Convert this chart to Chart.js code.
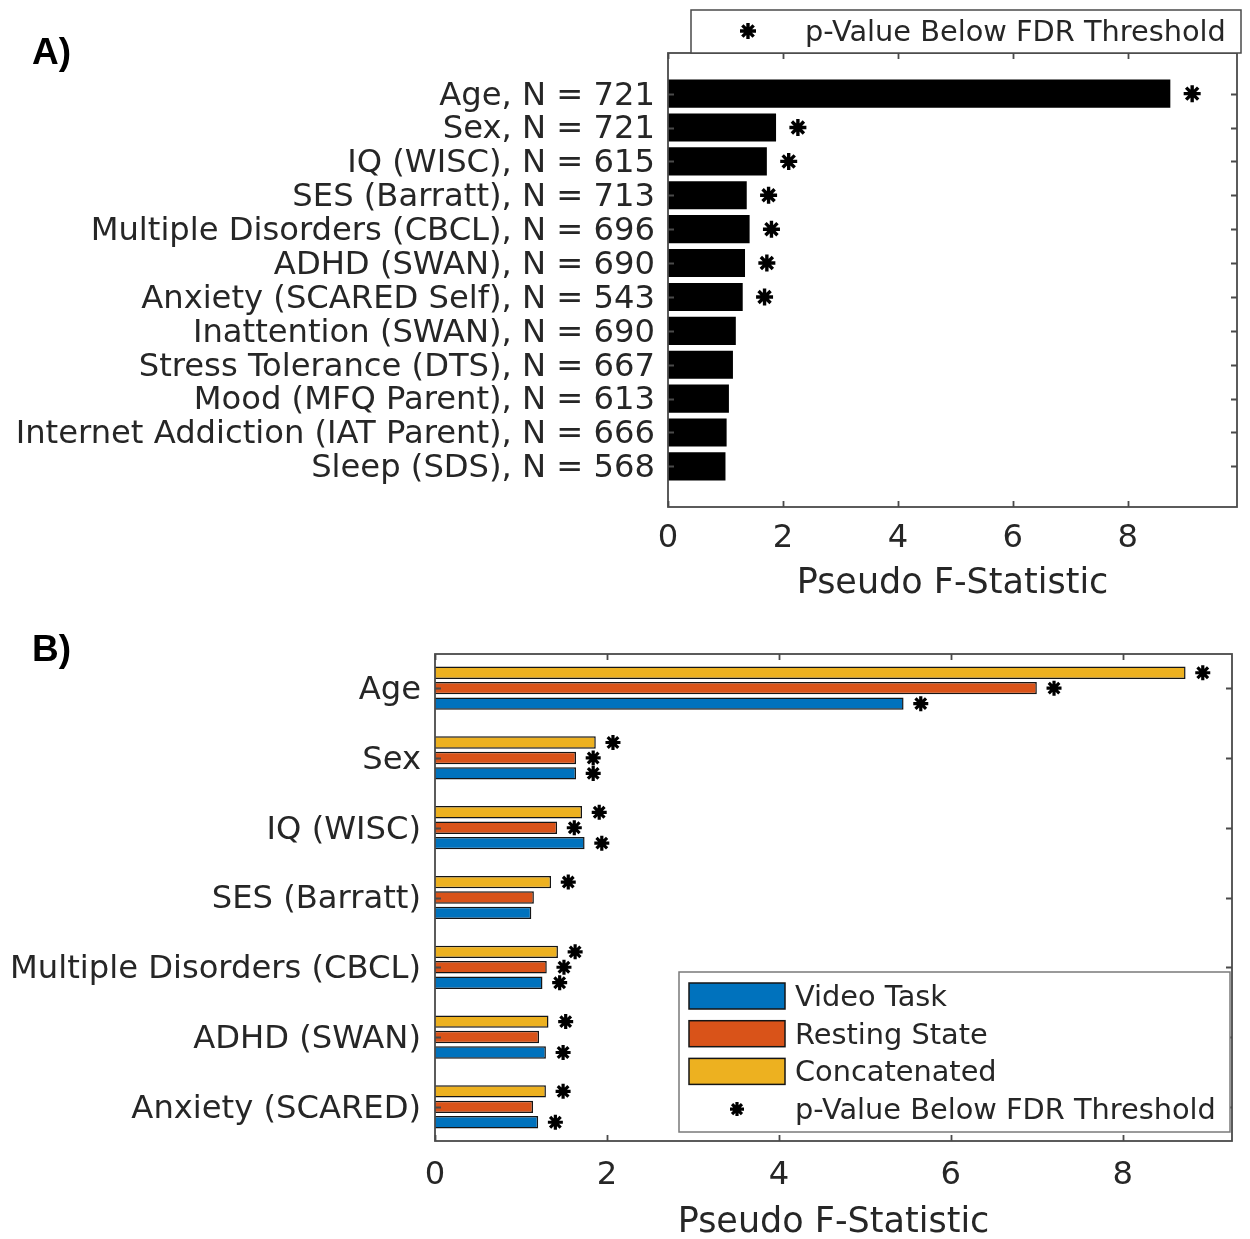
<!DOCTYPE html>
<html>
<head>
<meta charset="utf-8">
<script src="https://cdn.jsdelivr.net/npm/chart.js@4.4.1/dist/chart.umd.min.js"></script>
<style>
  html, body { margin: 0; padding: 0; background: #fff; }
  #page { position: relative; width: 1250px; height: 1239px; overflow: hidden; background: #fff; }
  canvas { position: absolute; left: 0; }
  #cA { top: 0; }
  #cB { top: 610px; }
  .panel { position: absolute; left: 32px; font: bold 37px "Liberation Sans", Arial, sans-serif; color: #000; line-height: 1; }
</style>
</head>
<body>
<div id="page">
  <canvas id="cA" width="1250" height="610"></canvas>
  <canvas id="cB" width="1250" height="629"></canvas>
  <div class="panel" style="top:33px">A)</div>
  <div class="panel" style="top:630px">B)</div>
</div>
<script>
// ---- Panel A: pseudo F-statistic per phenotypic measure (concatenated data) ----
const measuresA = [
  'Age, N = 721',
  'Sex, N = 721',
  'IQ (WISC), N = 615',
  'SES (Barratt), N = 713',
  'Multiple Disorders (CBCL), N = 696',
  'ADHD (SWAN), N = 690',
  'Anxiety (SCARED Self), N = 543',
  'Inattention (SWAN), N = 690',
  'Stress Tolerance (DTS), N = 667',
  'Mood (MFQ Parent), N = 613',
  'Internet Addiction (IAT Parent), N = 666',
  'Sleep (SDS), N = 568'
];
const pseudoFA = [8.74, 1.88, 1.72, 1.37, 1.42, 1.34, 1.30, 1.18, 1.13, 1.06, 1.02, 1.00];
const belowFdrA = [true, true, true, true, true, true, true, false, false, false, false, false];
const ticksA = [0, 2, 4, 6, 8];

// ---- Panel B: pseudo F-statistic by data type ----
const measuresB = [
  'Age',
  'Sex',
  'IQ (WISC)',
  'SES (Barratt)',
  'Multiple Disorders (CBCL)',
  'ADHD (SWAN)',
  'Anxiety (SCARED)'
];
const videoTask    = [5.45, 1.64, 1.74, 1.12, 1.25, 1.29, 1.20];
const restingState = [7.00, 1.64, 1.42, 1.15, 1.30, 1.21, 1.14];
const concatenated = [8.73, 1.87, 1.71, 1.35, 1.43, 1.32, 1.29];
const belowFdrVideo   = [true, true, true, false, true, true, true];
const belowFdrResting = [true, true, true, false, true, false, false];
const belowFdrConcat  = [true, true, true, true, true, true, true];
const ticksB = [0, 2, 4, 6, 8];

// ---- shared styling ----
const FONT = 'DejaVu Sans';
const INK = '#262626';
const BLUE = '#0072BD', ORANGE = '#D95319', YELLOW = '#EDB120';

// Box around the plot area with inward tick marks on all four sides
const axesFrame = {
  id: 'axesFrame',
  afterDatasetsDraw(chart, args, o) {
    const { ctx, chartArea: a, scales: { x, y } } = chart;
    ctx.save();
    ctx.strokeStyle = o.color;
    ctx.lineWidth = o.width;
    ctx.beginPath();
    x.ticks.forEach(t => {
      const px = Math.round(x.getPixelForValue(t.value)) + 0.5;
      ctx.moveTo(px, a.top); ctx.lineTo(px, a.top + o.tick);
      ctx.moveTo(px, a.bottom); ctx.lineTo(px, a.bottom - o.tick);
    });
    y.ticks.forEach(t => {
      const py = Math.round(y.getPixelForValue(t.value)) + 0.5;
      ctx.moveTo(a.left, py); ctx.lineTo(a.left + o.tick, py);
      ctx.moveTo(a.right, py); ctx.lineTo(a.right - o.tick, py);
    });
    ctx.stroke();
    ctx.strokeRect(a.left, a.top, a.right - a.left, a.bottom - a.top);
    ctx.restore();
  }
};

// Boxed legend; entries come from datasets that carry a legendRank
const boxLegend = {
  id: 'boxLegend',
  afterDraw(chart, args, o) {
    const ctx = chart.ctx;
    ctx.save();
    ctx.fillStyle = '#fff';
    ctx.fillRect(o.left, o.top, o.width, o.height);
    ctx.strokeStyle = o.edge;
    ctx.lineWidth = 1.5;
    ctx.strokeRect(o.left, o.top, o.width, o.height);
    const items = chart.data.datasets
      .filter(d => d.legendRank !== undefined)
      .sort((p, q) => p.legendRank - q.legendRank);
    ctx.font = o.fontSize + 'px "' + FONT + '"';
    ctx.textBaseline = 'middle';
    ctx.textAlign = 'left';
    items.forEach((d, r) => {
      const cy = o.firstRow + r * o.rowGap;
      if (d.type === 'scatter') {
        ctx.strokeStyle = d.pointBorderColor;
        ctx.fillStyle = d.pointBorderColor;
        ctx.lineWidth = d.pointBorderWidth;
        Chart.helpers.drawPoint(ctx, {
          pointStyle: 'star', radius: o.markerRadius, rotation: 0, borderWidth: d.pointBorderWidth
        }, o.markerX, cy);
      } else {
        ctx.fillStyle = d.backgroundColor;
        ctx.fillRect(o.swatchX, cy - o.swatchH / 2, o.swatchW, o.swatchH);
        ctx.strokeStyle = '#151515';
        ctx.lineWidth = 1.5;
        ctx.strokeRect(o.swatchX, cy - o.swatchH / 2, o.swatchW, o.swatchH);
      }
      ctx.fillStyle = INK;
      ctx.fillText(d.label, o.textX, cy + o.textShift);
    });
    ctx.restore();
  }
};

function xScale(max, ticks, height, tickPad, titlePad) {
  return {
    type: 'linear', min: 0, max: max, offset: false,
    grid: { display: false, drawTicks: false },
    border: { display: false },
    afterBuildTicks: s => { s.ticks = ticks.map(v => ({ value: v })); },
    afterFit: s => { s.height = height; },
    ticks: { font: { family: FONT, size: 32.2, lineHeight: 1 }, color: INK, padding: tickPad, maxRotation: 0, autoSkip: false },
    title: { display: true, text: 'Pseudo F-Statistic', font: { family: FONT, size: 35, lineHeight: 0.9 }, color: INK, padding: { top: 0, bottom: titlePad } }
  };
}

function yScale(labels, min, max, width, pad) {
  return {
    type: 'linear', reverse: true, min: min, max: max, offset: false,
    grid: { display: false, drawTicks: false, offset: false },
    border: { display: false },
    afterBuildTicks: s => { s.ticks = labels.map((_, i) => ({ value: i })); },
    afterFit: s => { s.width = width; },
    ticks: { font: { family: FONT, size: 32.2, lineHeight: 1 }, color: INK, padding: pad, autoSkip: false,
             labelOffset: 2.5, callback: v => labels[v] }
  };
}

// ---------------- Panel A ----------------
const STAR_GAP_A = 0.38;
new Chart(document.getElementById('cA'), {
  type: 'bar',
  plugins: [axesFrame, boxLegend],
  data: {
    datasets: [
      {
        label: 'Pseudo F-Statistic',
        data: pseudoFA.map((v, i) => ({ x: v, y: i })),
        backgroundColor: '#000', borderWidth: 0,
        barPercentage: 0.83, categoryPercentage: 1
      },
      {
        type: 'scatter', legendRank: 0,
        label: 'p-Value Below FDR Threshold',
        data: pseudoFA.flatMap((v, i) => belowFdrA[i] ? [{ x: v + STAR_GAP_A, y: i }] : []),
        pointStyle: 'star', pointRadius: 8.5, pointBorderWidth: 3.4,
        pointBorderColor: '#000', pointBackgroundColor: '#000'
      }
    ]
  },
  options: {
    responsive: false, animation: false, devicePixelRatio: 1, indexAxis: 'y',
    layout: { padding: { left: 0, right: 13, top: 53, bottom: 0 } },
    plugins: {
      legend: { display: false }, tooltip: { enabled: false },
      axesFrame: { color: '#4a4a4a', width: 1.8, tick: 6 },
      boxLegend: { left: 691, top: 10, width: 550, height: 43, edge: '#4a4a4a', fontSize: 28.8,
                   firstRow: 31, rowGap: 38, markerX: 748, markerRadius: 8, textX: 805, textShift: 2.5 }
    },
    scales: {
      x: xScale(9.9, ticksA, 103, 16, 10),
      y: yScale(measuresA, -1.2, 12.2, 668, 13)
    }
  }
});

// ---------------- Panel B ----------------
const GROUP_WIDTH = 0.664;   // fraction of each category taken by its three bars
const BAR_FILL = 0.8;
const STAR_GAP_B = 0.2;
// series listed top to bottom within each group
const seriesB = [
  { label: 'Concatenated',  values: concatenated, sig: belowFdrConcat,  color: YELLOW, rank: 2 },
  { label: 'Resting State', values: restingState, sig: belowFdrResting, color: ORANGE, rank: 1 },
  { label: 'Video Task',    values: videoTask,    sig: belowFdrVideo,   color: BLUE,   rank: 0 }
];
const barSetsB = seriesB.map(s => ({
  label: s.label, legendRank: s.rank,
  data: s.values.map((v, i) => ({ x: v, y: i })),
  backgroundColor: s.color, borderColor: '#151515', borderWidth: 1.5,
  barPercentage: BAR_FILL, categoryPercentage: GROUP_WIDTH
}));
const starsB = {
  type: 'scatter', legendRank: 3,
  label: 'p-Value Below FDR Threshold',
  data: seriesB.flatMap((s, k) => s.values.flatMap((v, i) =>
    s.sig[i] ? [{ x: v + STAR_GAP_B, y: i + (k - 1) * GROUP_WIDTH / seriesB.length }] : [])),
  pointStyle: 'star', pointRadius: 7.5, pointBorderWidth: 3.2,
  pointBorderColor: '#000', pointBackgroundColor: '#000'
};

new Chart(document.getElementById('cB'), {
  type: 'bar',
  plugins: [axesFrame, boxLegend],
  data: { datasets: [...barSetsB, starsB] },
  options: {
    responsive: false, animation: false, devicePixelRatio: 1, indexAxis: 'y',
    layout: { padding: { left: 0, right: 18, top: 44, bottom: 0 } },
    plugins: {
      legend: { display: false }, tooltip: { enabled: false },
      axesFrame: { color: '#4a4a4a', width: 1.8, tick: 6 },
      boxLegend: { left: 679, top: 362, width: 551, height: 160, edge: '#7a7a7a', fontSize: 28.8,
                   firstRow: 386, rowGap: 37.7, markerX: 737, markerRadius: 7, textX: 795,
                   swatchX: 689, swatchW: 96, swatchH: 26, textShift: 2.5 }
    },
    scales: {
      x: xScale(9.27, ticksB, 98, 19, 0.75),
      y: yScale(measuresB, -0.49, 6.49, 435, 14)
    }
  }
});
</script>
</body>
</html>
